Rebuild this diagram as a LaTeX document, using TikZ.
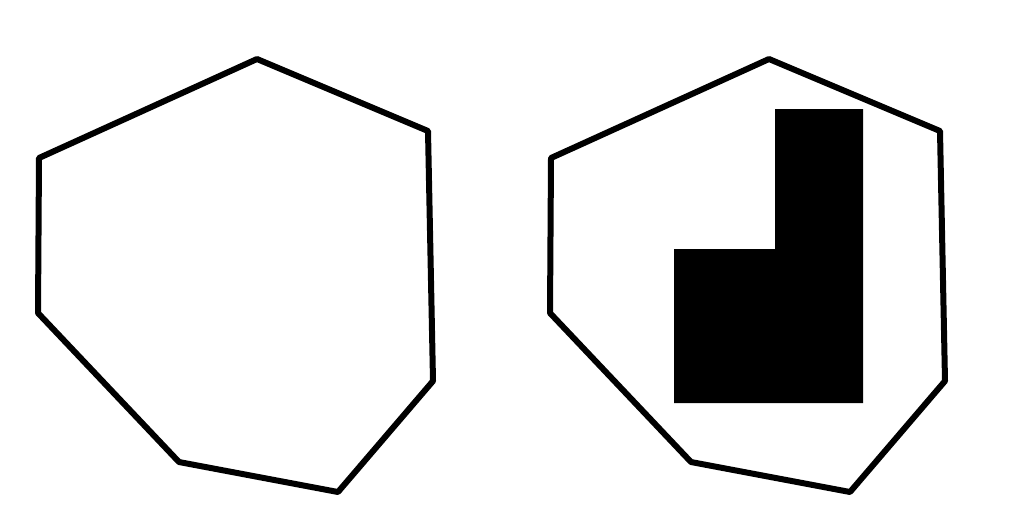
\documentclass[tikz,border=0pt]{standalone}
\usepackage{tikz}
\tikzset{hull/.style={draw=black, line width=0.12cm, line join=round}}

\begin{document}
\begin{tikzpicture}[x=0.02cm, y=-0.02cm]
  \useasboundingbox (0,0) rectangle (1024,512);
  % outline, once plain and once with the region inside
  \foreach \dx in {0,512} {
    \draw[hull, shift={(\dx,0)}] (257,59) -- (428,131) -- (433,381) -- (338,492)
      -- (179,462) -- (38,313) -- (39,158) -- cycle;
  }
  \fill[black] (775,109) -- (863,109) -- (863,403) -- (674,403) -- (674,249)
    -- (775,249) -- cycle;
\end{tikzpicture}
\end{document}
